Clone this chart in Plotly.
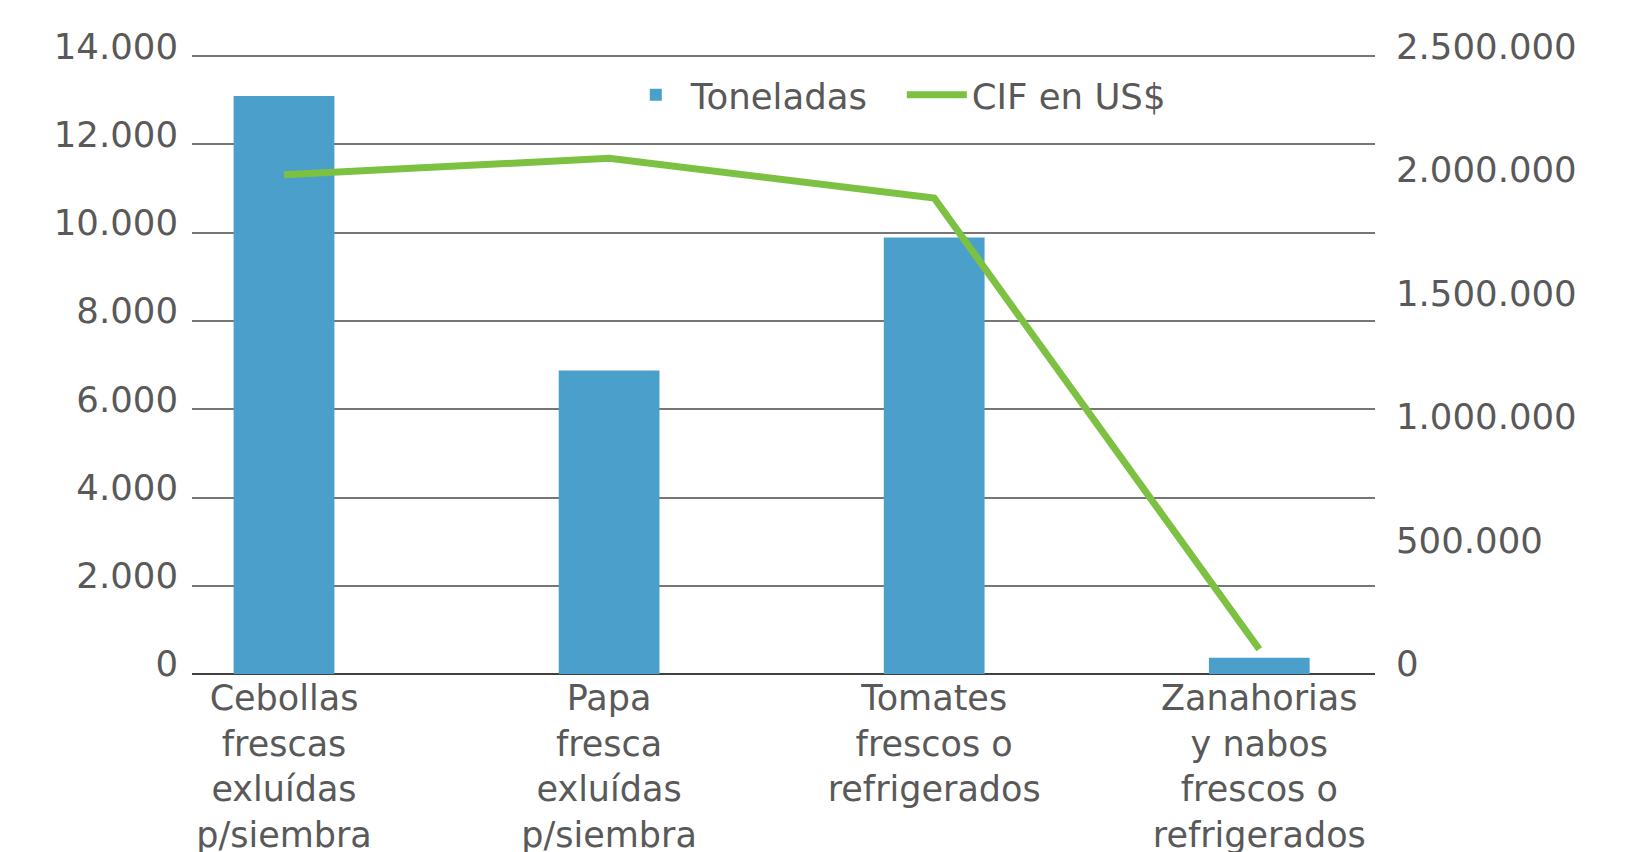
import plotly.graph_objects as go

# Product categories (x axis)
categories = [
    "Cebollas<br>frescas<br>exluídas<br>p/siembra",
    "Papa<br>fresca<br>exluídas<br>p/siembra",
    "Tomates<br>frescos o<br>refrigerados",
    "Zanahorias<br>y nabos<br>frescos o<br>refrigerados",
]
toneladas = [13100, 6880, 9890, 370]
cif_usd = [2020000, 2087000, 1926000, 100000]

font_family = "DejaVu Sans"
grey = "#595959"
fsize = 35.5
top_pad = 1.002  # keeps the 14.000 gridline visible at the top edge

fig = go.Figure()
fig.add_trace(go.Bar(
    x=categories,
    y=toneladas,
    name="Toneladas",
    width=0.31,
    marker=dict(color="#4b9fcb", line=dict(width=0)),
))
fig.add_trace(go.Scatter(
    x=categories,
    y=cif_usd,
    name="CIF en US$",
    mode="lines",
    yaxis="y2",
    line=dict(color="#7dc142", width=7),
))

fig.update_layout(
    template="none",
    width=1649,
    height=852,
    margin=dict(l=184, r=282, t=47, b=186, autoexpand=False),
    paper_bgcolor="white",
    plot_bgcolor="white",
    separators=",.",
    font=dict(family=font_family, size=fsize, color=grey),
    showlegend=True,
    legend=dict(
        orientation="h",
        x=0.6, y=0.935,
        xanchor="center", yanchor="middle",
        bgcolor="rgba(0,0,0,0)",
        font=dict(size=fsize, color=grey),
        itemwidth=60,
        entrywidth=206,
    ),
    xaxis=dict(
        range=[-0.283, 3.356],
        automargin=False,
        showgrid=False,
        showline=False,
        zeroline=False,
        ticks="",
        tickfont=dict(size=35, color=grey),
    ),
    yaxis=dict(
        range=[0, 14000 * top_pad],
        automargin=False,
        dtick=2000,
        tickformat=",d",
        showgrid=True,
        gridcolor="#767676",
        gridwidth=1.5,
        zeroline=True,
        zerolinecolor="#404040",
        zerolinewidth=1.5,
        showline=False,
        ticks="",
        ticklabelstandoff=13,
        ticklabelshift=-10,
        tickfont=dict(size=fsize, color=grey),
    ),
    yaxis2=dict(
        overlaying="y",
        side="right",
        range=[0, 2500000 * top_pad],
        automargin=False,
        dtick=500000,
        tickformat=",d",
        showgrid=False,
        zeroline=False,
        showline=False,
        ticks="",
        ticklabelstandoff=20,
        ticklabelshift=-10,
        tickfont=dict(size=fsize, color=grey),
    ),
)

fig.write_html("out.html")
